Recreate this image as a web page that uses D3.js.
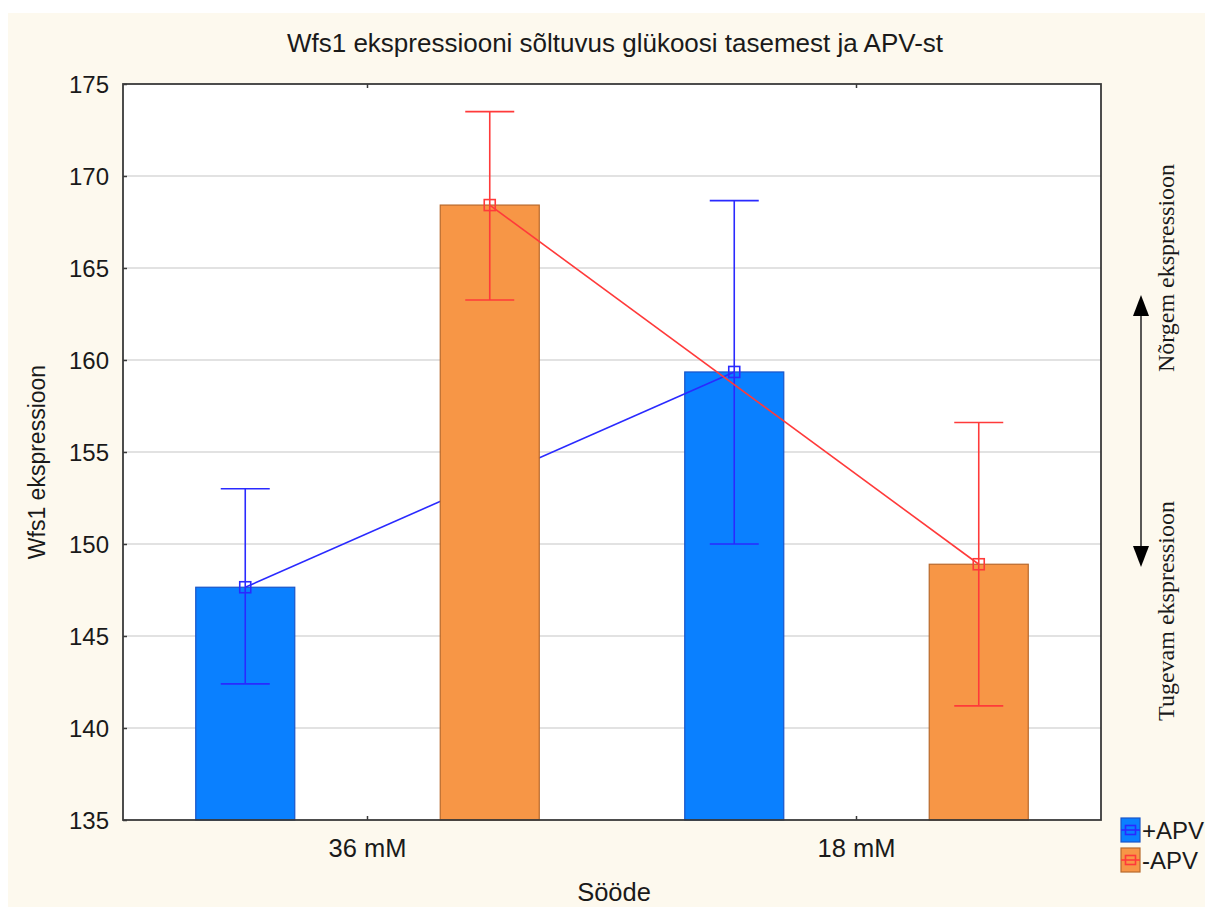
<!DOCTYPE html>
<html>
<head>
<meta charset="utf-8">
<script src="https://cdn.jsdelivr.net/npm/d3@7"></script>
<style>
  html, body { margin: 0; padding: 0; background: #ffffff; }
  svg { display: block; }
  text { font-family: "Liberation Sans", Arial, sans-serif; fill: #1a1a1a; }
  .serif { font-family: "Liberation Serif", "Times New Roman", serif; }
</style>
</head>
<body>
<svg id="chart" width="1205" height="907"></svg>
<script>
  // feeding groups and APV series
  const groups = ["36 mM", "18 mM"];
  const series = ["+APV", "-APV"];
  const meanPlus = [147.65, 159.35];
  const lowPlus = [142.4, 150.0];
  const highPlus = [153.0, 168.66];
  const meanMinus = [168.42, 148.9];
  const lowMinus = [163.26, 141.2];
  const highMinus = [173.5, 156.6];
  const yTicks = [135, 140, 145, 150, 155, 160, 165, 170, 175];

  const seriesStyle = {
    "+APV": { fill: "#0a80ff", stroke: "#1a55c8", line: "#2a2aff" },
    "-APV": { fill: "#f79646", stroke: "#b8692c", line: "#ff3a3a" },
  };
  const seriesData = {
    "+APV": groups.map((g, i) => ({ group: g, mean: meanPlus[i], lo: lowPlus[i], hi: highPlus[i] })),
    "-APV": groups.map((g, i) => ({ group: g, mean: meanMinus[i], lo: lowMinus[i], hi: highMinus[i] })),
  };

  const svg = d3.select("#chart");
  const plot = { left: 123, right: 1101, top: 84, bottom: 820 };

  // cream panel
  svg.append("rect").attr("x", 8).attr("y", 13).attr("width", 1205 - 8).attr("height", 907 - 13)
    .attr("fill", "#fdf9ee");

  const x0 = d3.scaleBand().domain(groups).range([plot.left, plot.right]);
  const x1 = d3.scaleBand().domain(series).range([0, x0.bandwidth()])
    .paddingInner(0.595).paddingOuter(0.2975);
  const y = d3.scaleLinear().domain([135, 175]).range([plot.bottom, plot.top]);
  const cx = (s, g) => x0(g) + x1(s) + x1.bandwidth() / 2;

  svg.append("rect")
    .attr("x", plot.left).attr("y", plot.top)
    .attr("width", plot.right - plot.left).attr("height", plot.bottom - plot.top)
    .attr("fill", "#ffffff");

  // grid
  svg.append("g").selectAll("line")
    .data(yTicks.filter((t) => t > 135 && t < 175))
    .join("line")
    .attr("x1", plot.left).attr("x2", plot.right)
    .attr("y1", (d) => y(d)).attr("y2", (d) => y(d))
    .attr("stroke", "#d9d9d9").attr("stroke-width", 1.5);

  // series: bars, connecting line, error bars, markers
  series.forEach((s) => {
    const st = seriesStyle[s];
    const data = seriesData[s];
    const g = svg.append("g");

    g.selectAll("rect")
      .data(data)
      .join("rect")
      .attr("x", (d) => x0(d.group) + x1(s))
      .attr("y", (d) => y(d.mean))
      .attr("width", x1.bandwidth())
      .attr("height", (d) => plot.bottom - y(d.mean))
      .attr("fill", st.fill)
      .attr("stroke", st.stroke)
      .attr("stroke-width", 1.2);

    g.append("path")
      .datum(data)
      .attr("fill", "none")
      .attr("stroke", st.line)
      .attr("stroke-width", 1.6)
      .attr("d", d3.line().x((d) => cx(s, d.group)).y((d) => y(d.mean)));

    const err = g.selectAll("g.err").data(data).join("g").attr("class", "err")
      .attr("stroke", st.line).attr("stroke-width", 1.6);
    err.append("line")
      .attr("x1", (d) => cx(s, d.group)).attr("x2", (d) => cx(s, d.group))
      .attr("y1", (d) => y(d.lo)).attr("y2", (d) => y(d.hi));
    ["lo", "hi"].forEach((k) => {
      err.append("line")
        .attr("x1", (d) => cx(s, d.group) - 24.5).attr("x2", (d) => cx(s, d.group) + 24.5)
        .attr("y1", (d) => y(d[k])).attr("y2", (d) => y(d[k]));
    });

    g.selectAll("rect.marker")
      .data(data)
      .join("rect")
      .attr("class", "marker")
      .attr("x", (d) => cx(s, d.group) - 5.5).attr("y", (d) => y(d.mean) - 5.5)
      .attr("width", 11).attr("height", 11)
      .attr("fill", "none").attr("stroke", st.line).attr("stroke-width", 1.6);
  });

  // frame
  svg.append("rect")
    .attr("x", plot.left).attr("y", plot.top)
    .attr("width", plot.right - plot.left).attr("height", plot.bottom - plot.top)
    .attr("fill", "none").attr("stroke", "#3a3a3a").attr("stroke-width", 1.8);

  // y axis: inner ticks
  const yAxis = d3.axisLeft(y).tickValues(yTicks).tickSizeInner(-4).tickSizeOuter(0).tickPadding(14);
  const ya = svg.append("g").attr("transform", `translate(${plot.left},0)`).call(yAxis);
  ya.select(".domain").remove();
  ya.selectAll(".tick line").attr("stroke", "#3a3a3a").attr("stroke-width", 1.5);
  ya.selectAll(".tick text").attr("font-size", 24).attr("fill", "#1a1a1a")
    .attr("font-family", "Liberation Sans, Arial, sans-serif").attr("dy", "0.36em");

  // x axis: inner ticks bottom and top
  const xAxis = d3.axisBottom(x0).tickSizeInner(-4).tickSizeOuter(0).tickPadding(19);
  const xa = svg.append("g").attr("transform", `translate(0,${plot.bottom})`).call(xAxis);
  xa.select(".domain").remove();
  xa.selectAll(".tick line").attr("stroke", "#3a3a3a").attr("stroke-width", 1.5);
  xa.selectAll(".tick text").attr("font-size", 25.5).attr("fill", "#1a1a1a")
    .attr("font-family", "Liberation Sans, Arial, sans-serif");

  const xt = svg.append("g").attr("transform", `translate(0,${plot.top})`)
    .call(d3.axisTop(x0).tickSizeInner(-4).tickSizeOuter(0).tickFormat(""));
  xt.select(".domain").remove();
  xt.selectAll(".tick line").attr("stroke", "#3a3a3a").attr("stroke-width", 1.5);

  // titles
  svg.append("text").attr("x", 615).attr("y", 52).attr("text-anchor", "middle")
    .attr("font-size", 26).text("Wfs1 ekspressiooni sõltuvus glükoosi tasemest ja APV-st");
  svg.append("text").attr("transform", "translate(45,462) rotate(-90)").attr("text-anchor", "middle")
    .attr("font-size", 23).text("Wfs1 ekspressioon");
  svg.append("text").attr("x", 614).attr("y", 901).attr("text-anchor", "middle")
    .attr("font-size", 25.5).text("Sööde");

  // right-hand annotation with double arrow
  const arr = svg.append("g");
  arr.append("line").attr("x1", 1141).attr("x2", 1141).attr("y1", 312).attr("y2", 550)
    .attr("stroke", "#303030").attr("stroke-width", 1.6);
  arr.append("path").attr("d", "M1141,295 L1133,316 L1149,316 Z").attr("fill", "#000");
  arr.append("path").attr("d", "M1141,567 L1133,546 L1149,546 Z").attr("fill", "#000");
  svg.append("text").attr("class", "serif").attr("transform", "translate(1174,268) rotate(-90)")
    .attr("text-anchor", "middle").attr("font-size", 24).text("Nõrgem ekspressioon");
  svg.append("text").attr("class", "serif").attr("transform", "translate(1174,611) rotate(-90)")
    .attr("text-anchor", "middle").attr("font-size", 24).text("Tugevam ekspressioon");

  // legend
  const legend = svg.append("g");
  series.forEach((s, i) => {
    const st = seriesStyle[s];
    const ly = 818 + i * 30;
    const lg = legend.append("g");
    lg.append("rect").attr("x", 1121).attr("y", ly).attr("width", 19).attr("height", 24)
      .attr("fill", st.fill).attr("stroke", st.stroke).attr("stroke-width", 1.2);
    lg.append("line").attr("x1", 1121).attr("x2", 1140).attr("y1", ly + 12).attr("y2", ly + 12)
      .attr("stroke", st.line).attr("stroke-width", 1.6);
    lg.append("rect").attr("x", 1125.5).attr("y", ly + 7.5).attr("width", 10).attr("height", 9)
      .attr("fill", "none").attr("stroke", st.line).attr("stroke-width", 1.6);
    lg.append("text").attr("x", 1142).attr("y", ly + 21).attr("font-size", 24).text(s);
  });
</script>
</body>
</html>
